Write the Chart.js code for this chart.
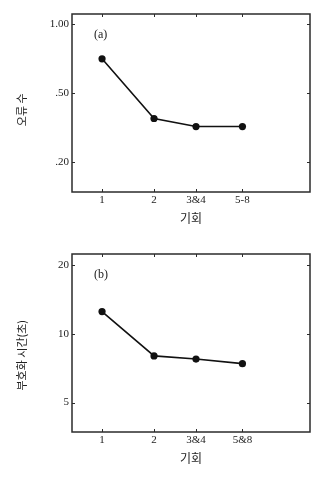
<!doctype html>
<html>

<head>
    <meta charset="UTF-8">
    <meta name="viewport" content="width=device-width, initial-scale=1.0">
    <script src="https://cdn.jsdelivr.net/npm/chart.js"></script>
    <style>
        html, body { margin: 0; padding: 0; background: #fff; overflow: hidden; }
        .panel { position: relative; width: 333px; height: 240px; }
    </style>
</head>

<body>
    <div class="panel"><canvas id="error_graph"></canvas></div>
    <div class="panel"><canvas id="time_graph"></canvas></div>

<script>
    // trials: x axis is log spaced, grouped trials sit between their members
    const trialLabelsA = ['1', '2', '3&4', '5-8'];
    const trialLabelsB = ['1', '2', '3&4', '5&8'];
    const trialPos = [1, 2, 3.5, 6.5];

    // (a) error count
    const errorRate = [0.75, 0.39, 0.355, 0.355];
    const errorTicks = [0.20, 0.50, 1.00];

    // (b) encoding time, seconds
    const encodeTime = [12.5, 8.0, 7.75, 7.4];
    const timeTicks = [5, 10, 20];

    const panelTags = ['(a)', '(b)'];

    const SERIF = "'Liberation Serif', 'DejaVu Serif', serif";
    const HANGUL = "'Noto Sans CJK KR', 'Noto Sans', sans-serif";
    const INK = '#222';

    Chart.defaults.font.family = SERIF;
    Chart.defaults.font.size = 11;
    Chart.defaults.color = INK;

    // position of v along an axis whose labelled values are equally spaced,
    // linear between neighbouring labels (and past the ends)
    function knotIndex(v, knots) {
        let i = 0;
        while (i < knots.length - 2 && v > knots[i + 1]) i++;
        return i + (v - knots[i]) / (knots[i + 1] - knots[i]);
    }

    class KnotScale extends Chart.LinearScale {
        buildTicks() {
            return this.options.knots.map(v => ({ value: v }));
        }
        getPixelForValue(value) {
            const k = this.options.knots;
            const lo = knotIndex(this.min, k), hi = knotIndex(this.max, k);
            return this.getPixelForDecimal((knotIndex(value, k) - lo) / (hi - lo));
        }
        getValueForPixel(pixel) {
            const k = this.options.knots;
            const lo = knotIndex(this.min, k), hi = knotIndex(this.max, k);
            const pos = lo + this.getDecimalForPixel(pixel) * (hi - lo);
            const i = Math.min(Math.max(Math.floor(pos), 0), k.length - 2);
            return k[i] + (pos - i) * (k[i + 1] - k[i]);
        }
    }
    KnotScale.id = 'knot';
    KnotScale.defaults = {};
    Chart.register(KnotScale);

    // box around the plot with short inward ticks on all four sides + panel tag
    const frame = {
        id: 'frame',
        beforeDatasetsDraw(chart, args, opts) {
            const { ctx, chartArea: a, scales: { x, y } } = chart;
            ctx.save();
            ctx.strokeStyle = '#2b2b2b';
            ctx.lineWidth = 1.5;
            ctx.strokeRect(a.left, a.top, a.right - a.left, a.bottom - a.top);
            ctx.lineWidth = 1;
            ctx.beginPath();
            x.ticks.forEach((t, i) => {
                const px = Math.round(x.getPixelForTick(i)) + 0.5;
                ctx.moveTo(px, a.bottom); ctx.lineTo(px, a.bottom - 3);
                ctx.moveTo(px, a.top); ctx.lineTo(px, a.top + 3);
            });
            y.ticks.forEach((t, i) => {
                const py = Math.round(y.getPixelForTick(i)) + 0.5;
                ctx.moveTo(a.left, py); ctx.lineTo(a.left + 3, py);
                ctx.moveTo(a.right, py); ctx.lineTo(a.right - 3, py);
            });
            ctx.stroke();
            ctx.font = '12px ' + SERIF;
            ctx.fillStyle = INK;
            ctx.textBaseline = 'middle';
            ctx.fillText(opts.tag, a.left + 22, a.top + 21);
            ctx.restore();
        }
    };

    function xAxis(labels) {
        return {
            type: 'logarithmic',
            bounds: 'data',
            min: 0.67,
            max: 16,
            grid: { display: false, drawTicks: false },
            border: { display: false },
            afterBuildTicks: s => { s.ticks = trialPos.map(v => ({ value: v })); },
            afterFit: s => { s.height = 48; },
            ticks: { padding: 2, autoSkip: false, maxRotation: 0, callback: (v, i) => labels[i] },
            title: {
                display: true,
                text: '기회',
                font: { family: HANGUL, size: 12 },
                padding: { top: 0, bottom: 14 }
            }
        };
    }

    function series(values) {
        return {
            data: trialPos.map((x, i) => ({ x: x, y: values[i] })),
            borderColor: '#111',
            backgroundColor: '#111',
            borderWidth: 1.6,
            pointRadius: 3.6,
            pointBorderWidth: 0,
            tension: 0
        };
    }

    const layout = { padding: { left: 0, right: 23, top: 14, bottom: 0 } };

    // Error count
    new Chart(document.getElementById('error_graph'), {
        type: 'line',
        data: { datasets: [series(errorRate)] },
        options: {
            responsive: true,
            maintainAspectRatio: false,
            animation: false,
            layout: layout,
            plugins: { legend: { display: false }, tooltip: { enabled: false }, frame: { tag: panelTags[0] } },
            scales: {
                x: xAxis(trialLabelsA),
                y: {
                    type: 'knot',
                    knots: errorTicks,
                    min: 0.07,
                    max: 1.075,
                    grid: { display: false, drawTicks: false },
                    border: { display: false },
                    afterFit: s => { s.width = 72; },
                    ticks: { padding: 3, callback: v => v.toFixed(2).replace(/^0/, '') },
                    title: {
                        display: true,
                        text: '오류 수\u3000 ',
                        font: { family: HANGUL, size: 11 },
                        padding: { top: 15, bottom: 0 }
                    }
                }
            }
        },
        plugins: [frame]
    });

    // Encoding time
    new Chart(document.getElementById('time_graph'), {
        type: 'line',
        data: { datasets: [series(encodeTime)] },
        options: {
            responsive: true,
            maintainAspectRatio: false,
            animation: false,
            layout: layout,
            plugins: { legend: { display: false }, tooltip: { enabled: false }, frame: { tag: panelTags[1] } },
            scales: {
                x: xAxis(trialLabelsB),
                y: {
                    type: 'logarithmic',
                    bounds: 'data',
                    min: 3.72,
                    max: 22.3,
                    grid: { display: false, drawTicks: false },
                    border: { display: false },
                    afterBuildTicks: s => { s.ticks = timeTicks.map(v => ({ value: v })); },
                    afterFit: s => { s.width = 72; },
                    ticks: { padding: 3, callback: v => String(v) },
                    title: {
                        display: true,
                        text: '부호화 시간(초)\u3000\u3000 ',
                        font: { family: HANGUL, size: 11 },
                        padding: { top: 15, bottom: 0 }
                    }
                }
            }
        },
        plugins: [frame]
    });
</script>
</body>
</html>
